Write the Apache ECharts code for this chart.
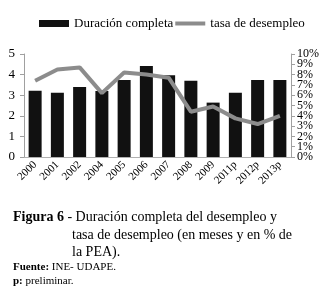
<!DOCTYPE html>
<html>
<head>
<meta charset="utf-8">
<script src="https://cdn.jsdelivr.net/npm/echarts@6/dist/echarts.min.js"></script>
<style>
  html, body { margin: 0; padding: 0; background: #fff; }
  #chart { width: 326px; height: 298px; }
</style>
</head>
<body>
<div id="chart"></div>
<script>
// datos
var categories = ['2000', '2001', '2002', '2004', '2005', '2006', '2007', '2008', '2009', '2011p', '2012p', '2013p'];
var duracion = [3.22, 3.12, 3.4, 3.2, 3.74, 4.42, 3.97, 3.7, 2.64, 3.12, 3.74, 3.74];
var tasa = [7.4, 8.5, 8.7, 6.2, 8.2, 8.0, 7.7, 4.4, 4.9, 3.75, 3.2, 4.0];

var serif = '"Liberation Serif", "Times New Roman", serif';
var chart = echarts.init(document.getElementById('chart'));

// el eje de % tiene etiquetas muy juntas; se reparten en dos ejes superpuestos
function pctLabel(par) {
  return function (v) {
    return (Math.round(v) % 2 === 0) === par ? v + '%' : '';
  };
}

var pctAxisBase = {
  type: 'value',
  min: 0,
  max: 10,
  interval: 1,
  position: 'right',
  splitLine: { show: false }
};

var option = {
  backgroundColor: '#fff',
  animation: false,
  textStyle: { fontFamily: serif },
  legend: {
    left: 34,
    top: 12,
    itemWidth: 30,
    itemHeight: 7,
    itemGap: 2,
    textStyle: { fontFamily: serif, fontSize: 13, color: '#000' },
    data: [
      { name: 'Duración completa', icon: 'rect' },
      { name: 'tasa de desempleo', icon: 'path://M0,0L30,0L30,4L0,4Z', itemStyle: { color: '#8c8c8c' } }
    ]
  },
  grid: {
    left: 24,
    right: 35,
    top: 54,
    bottom: 141
  },
  xAxis: [{
    type: 'category',
    data: categories,
    axisLine: { show: true, lineStyle: { color: '#b0b0b0', width: 1 } },
    axisTick: { show: false },
    axisLabel: {
      rotate: 45,
      interval: 0,
      margin: 6,
      fontFamily: serif,
      fontSize: 11,
      color: '#000'
    }
  }],
  yAxis: [{
    type: 'value',
    min: 0,
    max: 5,
    interval: 1,
    splitLine: { show: false },
    axisLine: { show: true, lineStyle: { color: '#a0a0a0' } },
    axisTick: { show: true, length: 4, lineStyle: { color: '#a0a0a0' } },
    axisLabel: { fontFamily: serif, fontSize: 13, color: '#000', margin: 9 }
  }, Object.assign({}, pctAxisBase, {
    axisLine: { show: true, lineStyle: { color: '#a0a0a0' } },
    axisTick: { show: true, length: 4, lineStyle: { color: '#a0a0a0' } },
    axisLabel: {
      formatter: pctLabel(true),
      fontFamily: serif, fontSize: 12, color: '#000', margin: 6,
      showMinLabel: true, showMaxLabel: true
    }
  }), Object.assign({}, pctAxisBase, {
    axisLine: { show: false },
    axisTick: { show: false },
    axisLabel: {
      formatter: pctLabel(false),
      fontFamily: serif, fontSize: 12, color: '#000', margin: 6
    }
  })],
  series: [{
    name: 'Duración completa',
    type: 'bar',
    barWidth: 13,
    itemStyle: { color: '#111' },
    data: duracion
  }, {
    name: 'tasa de desempleo',
    type: 'line',
    yAxisIndex: 1,
    symbol: 'none',
    lineStyle: { color: '#8c8c8c', width: 4 },
    itemStyle: { color: '#8c8c8c' },
    data: tasa
  }],
  graphic: [{
    type: 'text',
    left: 13,
    top: 210,
    style: {
      text: '{b|Figura 6} - Duración completa del desempleo y',
      font: '14px ' + serif,
      fill: '#000',
      rich: { b: { fontWeight: 'bold', fontSize: 14, fontFamily: serif } }
    }
  }, {
    type: 'text',
    left: 72,
    top: 228,
    style: {
      text: 'tasa de desempleo (en meses y en % de',
      font: '14px ' + serif,
      fill: '#000'
    }
  }, {
    type: 'text',
    left: 72,
    top: 245,
    style: {
      text: 'la PEA).',
      font: '14px ' + serif,
      fill: '#000'
    }
  }, {
    type: 'text',
    left: 13,
    top: 262,
    style: {
      text: '{b|Fuente:} INE- UDAPE.',
      font: '11px ' + serif,
      fill: '#000',
      rich: { b: { fontWeight: 'bold', fontSize: 11, fontFamily: serif } }
    }
  }, {
    type: 'text',
    left: 13,
    top: 276,
    style: {
      text: '{b|p:} preliminar.',
      font: '11px ' + serif,
      fill: '#000',
      rich: { b: { fontWeight: 'bold', fontSize: 11, fontFamily: serif } }
    }
  }]
};

chart.setOption(option);
</script>
</body>
</html>
